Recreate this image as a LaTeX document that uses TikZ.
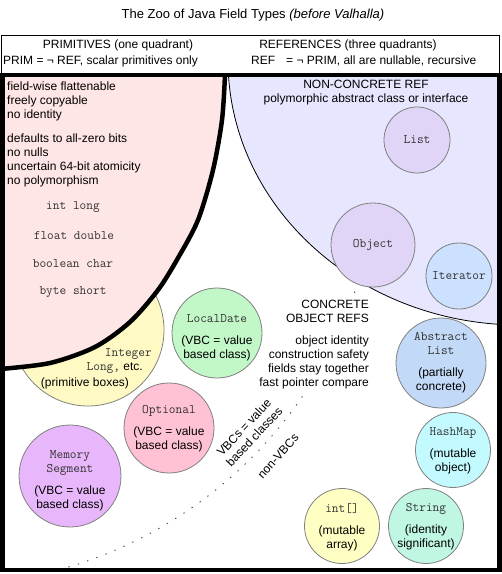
\documentclass[tikz,border=0pt]{standalone}
\usepackage{fontspec}
\setmainfont{Liberation Sans}
\definecolor{redfill}{HTML}{FFE6E6}
\definecolor{bluefill}{HTML}{E6E6FF}
\definecolor{listc}{HTML}{E1D5F7}
\definecolor{iterc}{HTML}{CCE0FF}
\definecolor{abstrc}{HTML}{C2D9F7}
\definecolor{hashc}{HTML}{C2FAFF}
\definecolor{strc}{HTML}{BFF7E3}
\definecolor{arrc}{HTML}{FFFFC4}
\definecolor{integc}{HTML}{FFFAC4}
\definecolor{ldc}{HTML}{C2F7C8}
\definecolor{optc}{HTML}{FFC2D4}
\definecolor{memc}{HTML}{E8B6FA}
\newcommand\monot[1]{{\fontsize{13}{14}\ttfamily\color{black!80}#1}}
\begin{document}
\begin{tikzpicture}[x=1pt,y=-1pt,
  sans/.style={font=\fontsize{12}{14}\selectfont, inner sep=0pt, align=center},
  lefttxt/.style={sans, align=left, anchor=west},
  mono/.style={font=\fontsize{13}{14}\ttfamily\selectfont, inner sep=0pt, text=black!80},
  bubble/.style={circle, draw=black!50, line width=0.8pt, inner sep=0pt, minimum size=#1},
  ctxt/.style={font=\fontsize{12}{14}\selectfont, inner sep=0pt, align=center},
]
\useasboundingbox (0,0) rectangle (502,574);
\fill[white] (0,0) rectangle (502,574);

% title
\node[sans, font=\fontsize{13}{15}\selectfont] (title) at (253,15) {The Zoo of Java Field Types \textit{(before Valhalla)}};

% header
\draw[line width=1pt] (1,35) rectangle (499,75);
\node[sans] (hprim1) at (118,45) {PRIMITIVES (one quadrant)};
\node[sans, anchor=west] (hprim2) at (3,61) {PRIM = ¬ REF, scalar primitives only};
\node[sans] (href1) at (348,45) {REFERENCES (three quadrants)};
\node[sans, anchor=west] (href2) at (251,61) {REF\hspace*{11pt}= ¬ PRIM, all are nullable, recursive};

\begin{scope}
  \clip (2.25,75) rectangle (499.5,570);
  % dotted boundary VBC / non-VBC
  \draw[black!70, line width=1pt, dash pattern=on 0.8pt off 9pt, line cap=round]
    plot[domain=76:18, samples=80, smooth] ({-55+433*cos(\x)},{152+433*sin(\x)});
  % blue region
  \fill[bluefill, draw=black, line width=0.8pt] (520,60) ellipse [x radius=292pt, y radius=265pt];
  % Integer circle (under red region)
  \node[bubble=152, fill=integc] (integer) at (88,330) {};
  % red region
  \fill[redfill] (-5,70) -- (225,70) -- plot[smooth] coordinates {(225,75) (222,120) (213,170) (198,220) (178,258) (158,290) (130,322) (95,347) (50,363) (0,369)} -- (-5,369) -- cycle;
  \draw[line width=4.5pt] (225,70) -- plot[smooth] coordinates {(225,75) (222,120) (213,170) (198,220) (178,258) (158,290) (130,322) (95,347) (50,363) (0,369)};
\end{scope}

% red region text
\node[lefttxt] (r1) at (7,101) {field-wise flattenable\\freely copyable\\no identity};
\node[lefttxt] (r2) at (7,160) {defaults to all-zero bits\\no nulls\\uncertain 64-bit atomicity\\no polymorphism};
\node[mono] (p1) at (73,207) {int long};
\node[mono] (p2) at (74,236) {float double};
\node[mono] (p3) at (73,264) {boolean char};
\node[mono] (p4) at (73,292) {byte short};

% Integer text
\node[mono, anchor=east] (int1) at (152,354) {Integer};
\node[sans, anchor=east] (int2) at (143,368) {\monot{Long,} etc.};
\node[sans] (int3) at (85,383) {(primitive boxes)};

% blue region text
\node[sans] (nc) at (366,93) {NON-CONCRETE REF\\polymorphic abstract class or interface};
\node[bubble=66, fill=listc, mono] (list) at (417,140) {List};
\node[bubble=84, fill=listc, mono] (object) at (373,245) {Object};
\node[bubble=66, fill=iterc, mono] (iter) at (459,276) {Iterator};

% concrete text
\node[sans, align=right, anchor=east, fill=white, inner sep=1pt] (conc) at (370,345)
  {CONCRETE\\OBJECT REFS\\[8pt]object identity\\construction safety\\fields stay together\\fast pointer compare};

% VBC labels
\node[sans, rotate=47] (vbc) at (249,432) {VBCs = value\\based classes};
\node[sans, rotate=48] (nonvbc) at (278,456) {non-VBCs};

% circles with values
\node[bubble=90, fill=ldc] (ld) at (217,333) {};
\node[ctxt] (ldt) at (217,338) {\monot{LocalDate}\\[8pt](VBC = value\\based class)};
\node[bubble=90, fill=optc] (opt) at (169,428) {};
\node[ctxt] (optt) at (169,429) {\monot{Optional}\\[8pt](VBC = value\\based class)};
\node[bubble=102, fill=memc] (mem) at (70,476) {};
\node[ctxt] (memt) at (70,481) {\monot{Memory}\\\monot{Segment}\\[8pt](VBC = value\\based class)};
\node[bubble=90, fill=abstrc] (abl) at (441,363) {};
\node[ctxt] (ablt) at (441,363) {\monot{Abstract}\\\monot{List}\\[8pt](partially\\concrete)};
\node[bubble=75, fill=hashc] (hm) at (453,450) {};
\node[ctxt] (hmt) at (453,451) {\monot{HashMap}\\[8pt](mutable\\object)};
\node[bubble=75, fill=strc] (str) at (426,526) {};
\node[ctxt] (strt) at (426,527) {\monot{String}\\[8pt](identity\\significant)};
\node[bubble=75, fill=arrc] (arr) at (342,526) {};
\node[ctxt] (arrt) at (342,527) {\monot{int[]}\\[8pt](mutable\\array)};

% thick frame
\draw[line width=4.5pt] (2.25,75) rectangle (499.5,570);
\end{tikzpicture}
\end{document}
